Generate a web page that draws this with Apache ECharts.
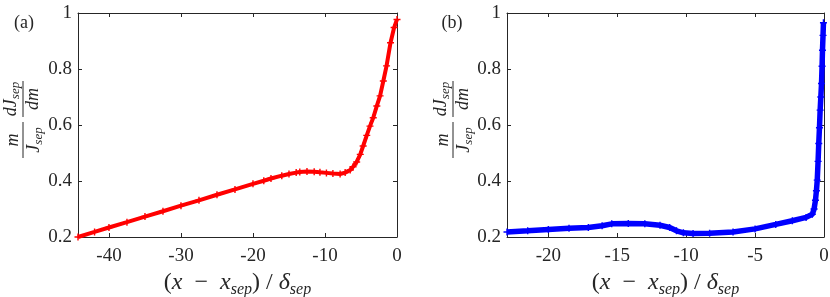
<!DOCTYPE html>
<html><head><meta charset="utf-8">
<script src="https://cdn.jsdelivr.net/npm/echarts@6/dist/echarts.min.js"></script>
<style>html,body{margin:0;padding:0;background:#fff}#c{width:830px;height:297px}</style>
</head><body><div id="c"></div>
<script>
// ---- data ----
const leftX = [-44.3,-42,-40,-37.5,-35,-32.5,-30,-27.5,-25,-22.5,-20,-18.5,-17.5,-16,-15,-14,-13.5,-12.5,-11.5,-10.7,-9.8,-8.9,-7.9,-7.2,-6.5,-6.1,-5.6,-5.1,-4.7,-4.2,-3.75,-3.3,-2.8,-2.35,-1.9,-1.45,-0.9,-0.4,0];
const leftY = [0.200,0.218,0.234,0.253,0.273,0.292,0.312,0.331,0.351,0.370,0.390,0.401,0.409,0.419,0.425,0.430,0.432,0.4335,0.433,0.431,0.429,0.427,0.425,0.430,0.439,0.451,0.468,0.495,0.525,0.563,0.596,0.626,0.668,0.704,0.757,0.811,0.894,0.948,0.977];
const rightX = [-23,-21.5,-20,-18.5,-17.1,-16.1,-15.4,-14.2,-13,-11.9,-11.2,-10.7,-10.2,-9.5,-8.3,-6.6,-5,-3.5,-2.3,-1.3,-0.85,-0.72,-0.62,-0.55,-0.49,-0.43,-0.38,-0.33,-0.28,-0.23,-0.18,-0.14,-0.11,-0.07,-0.04];
const rightY = [0.218,0.222,0.227,0.231,0.234,0.240,0.247,0.248,0.247,0.242,0.234,0.222,0.215,0.2125,0.2135,0.218,0.229,0.245,0.258,0.270,0.281,0.300,0.331,0.365,0.403,0.47,0.534,0.59,0.653,0.70,0.748,0.81,0.867,0.92,0.965];
const leftXTicks = [-40,-30,-20,-10,0];
const rightXTicks = [-20,-15,-10,-5,0];
const leftXRange = [-44.3, 0];
const rightXRange = [-23, 0];
const yRange = [0.2, 1];
const yStep = 0.2;
const panelLabels = ['(a)', '(b)'];

// ---- styling ----
const INK = '#262626';
const SERIF = '"Liberation Serif", "DejaVu Serif", serif';
const PLUS = 'path://M4,0H6V4H10V6H6V10H4V6H0V4H4Z';

const xTitleRich = {
  n: {fontFamily: SERIF, fontSize: 24, color: INK},
  i: {fontFamily: SERIF, fontSize: 24, fontStyle: 'italic', color: INK},
  s: {fontFamily: SERIF, fontSize: 16, fontStyle: 'italic', color: INK, padding: [13, 0, 0, 0]}
};
const xTitle = '{n|(}{i|x}{n|  −  }{i|x}{s|sep}{n|) / }{i|δ}{s|sep}';

function xAxes(grid, range, ticks) {
  const base = {
    gridIndex: grid, type: 'value', min: range[0], max: range[1],
    splitLine: {show: false},
    axisLine: {show: true, onZero: false, lineStyle: {color: INK, width: 1}},
    axisTick: {show: true, inside: true, length: 4, customValues: ticks, lineStyle: {color: INK, width: 1}}
  };
  return [
    Object.assign({}, base, {
      position: 'bottom',
      axisLabel: {customValues: ticks, fontFamily: SERIF, fontSize: 19, color: INK, margin: 10,
        formatter: v => String(v)},
      name: xTitle, nameLocation: 'middle', nameGap: 30,
      nameTextStyle: {rich: xTitleRich}
    }),
    Object.assign({}, base, {position: 'top', axisLabel: {show: false}})
  ];
}
function yAxes(grid) {
  const base = {
    gridIndex: grid, type: 'value', min: yRange[0], max: yRange[1], interval: yStep,
    splitLine: {show: false},
    axisLine: {show: true, onZero: false, lineStyle: {color: INK, width: 1}},
    axisTick: {show: true, inside: true, length: 4, lineStyle: {color: INK, width: 1}}
  };
  return [
    Object.assign({}, base, {
      position: 'left',
      axisLabel: {fontFamily: SERIF, fontSize: 19, color: INK, margin: 6,
        formatter: v => String(Math.round(v * 10) / 10)}
    }),
    Object.assign({}, base, {position: 'right', axisLabel: {show: false}})
  ];
}

function fracLabel(barX, bottomY) {
  const t = (txt, x, y, va) => ({
    type: 'text', x: x, y: y, z: 100,
    style: {text: txt, rich: {
      a: {fontFamily: SERIF, fontSize: 18, fontStyle: 'italic', fill: INK, color: INK},
      b: {fontFamily: SERIF, fontSize: 13, fontStyle: 'italic', fill: INK, color: INK, padding: [8, 0, 0, 0]}
    }, align: 'center', textAlign: 'center', verticalAlign: va, textVerticalAlign: va, fill: INK}
  });
  const ln = (x1, x2) => ({type: 'line', z: 100, shape: {x1: x1, y1: 0, x2: x2, y2: 0}, style: {stroke: INK, lineWidth: 1}});
  return {
    type: 'group', x: barX, y: bottomY, rotation: Math.PI / 2,
    children: [
      ln(0, 36), t('{a|m}', 18, -1, 'bottom'), t('{a|J}{b|sep}', 18, 1, 'top'),
      ln(41, 77), t('{a|dJ}{b|sep}', 59, -1, 'bottom'), t('{a|dm}', 59, 1, 'top')
    ]
  };
}

const chart = echarts.init(document.getElementById('c'), null, {renderer: 'canvas'});
const mk = (xs, ys) => xs.map((x, i) => [x, ys[i]]);
chart.setOption({
  animation: false,
  backgroundColor: '#fff',
  grid: [
    {left: 78, width: 319, top: 13, height: 224, containLabel: false, outerBoundsMode: 'none'},
    {left: 507, width: 317, top: 13, height: 224, containLabel: false, outerBoundsMode: 'none'}
  ],
  xAxis: [].concat(xAxes(0, leftXRange, leftXTicks), xAxes(1, rightXRange, rightXTicks)),
  yAxis: [].concat(yAxes(0), yAxes(1)),
  series: [
    {type: 'line', xAxisIndex: 0, yAxisIndex: 0, data: mk(leftX, leftY),
      symbol: PLUS, symbolSize: 7, itemStyle: {color: '#ff0000'},
      lineStyle: {color: '#ff0000', width: 4}},
    {type: 'line', xAxisIndex: 2, yAxisIndex: 2, data: mk(rightX, rightY),
      symbol: PLUS, symbolSize: 7, itemStyle: {color: '#0000ff'},
      lineStyle: {color: '#0000ff', width: 5.5}}
  ],
  graphic: [
    {type: 'text', x: 24, y: 23, z: 100, style: {text: panelLabels[0], font: '18px ' + SERIF, fill: INK, align: 'center', verticalAlign: 'middle', textAlign: 'center', textVerticalAlign: 'middle'}},
    {type: 'text', x: 452, y: 23, z: 100, style: {text: panelLabels[1], font: '18px ' + SERIF, fill: INK, align: 'center', verticalAlign: 'middle', textAlign: 'center', textVerticalAlign: 'middle'}},
    fracLabel(23, 158),
    fracLabel(453, 158)
  ]
});
</script></body></html>
